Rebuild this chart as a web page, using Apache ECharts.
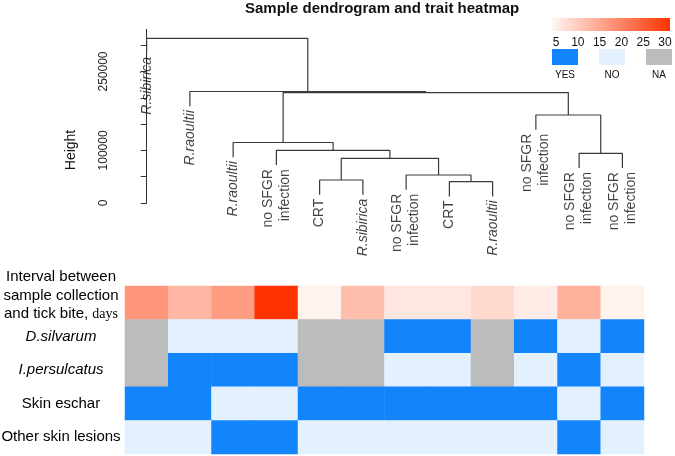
<!DOCTYPE html>
<html><head><meta charset="utf-8">
<script src="https://cdn.jsdelivr.net/npm/echarts@6/dist/echarts.min.js"></script>
<style>html,body{margin:0;padding:0;background:#fff}#c{width:675px;height:456px}</style>
</head><body><div id="c"></div>
<script>
// ---------- data ----------
const leafLabels = ['R.sibirica','R.raoultii','R.raoultii','no SFGR\ninfection','CRT','R.sibirica',
  'no SFGR\ninfection','CRT','R.raoultii','no SFGR\ninfection','no SFGR\ninfection','no SFGR\ninfection'];
const leafItalic = [true,true,true,false,false,true,false,false,true,false,false,false];
// hclust-style merges: negative = leaf (1-based), positive = earlier merge (1-based)
const mergeLeft  = [-8, -5, -7, 2, -11, -4, -3, -10, 7, -2, -1];
const mergeRight = [-9, -6,  1, 3, -12,  4,  6,   5, 8,  9, 10];
const mergeHeight = [40500, 43700, 53200, 85000, 94500, 100000, 115000, 167300, 210000, 212000, 313000];
const leafHang = 28000;
const heightTicks = [0, 50000, 100000, 150000, 200000, 250000, 300000];
const heightTickLabels = [0, 100000, 250000];

const traitRows = ['Interval between\nsample collection\nand tick bite, days','D.silvarum','I.persulcatus','Skin eschar','Other skin lesions'];
const intervalDays = [15, 10, 14, 30, 1, 9, 3, 3, 5, 2, 11, 1];
const dSilvarum    = ['NA','NO','NO','NO','NA','NA','YES','YES','NA','YES','NO','YES'];
const iPersulcatus = ['NA','YES','YES','YES','NA','NA','NO','NO','NA','NO','YES','NO'];
const skinEschar   = ['YES','YES','NO','NO','YES','YES','YES','YES','YES','YES','NO','YES'];
const otherLesions = ['NO','NO','YES','YES','NO','NO','NO','NO','NO','NO','YES','NO'];
const scaleTicks = [5, 10, 15, 20, 25, 30];
const statusNames = ['YES','NO','NA'];

// ---------- build ----------
const FONT = 'Liberation Sans, Arial, sans-serif';
const nLeaf = leafLabels.length;
const nodeX = [];
const leafEnd = new Array(nLeaf).fill(0);
const dendroSeries = [];
function childX(c){ return c < 0 ? (-c - 1) : nodeX[c - 1]; }
for (let i = 0; i < mergeHeight.length; i++) {
  const h = mergeHeight[i];
  const l = mergeLeft[i], r = mergeRight[i];
  const xl = childX(l), xr = childX(r);
  nodeX.push((xl + xr) / 2);
  const yl = l < 0 ? h - leafHang : mergeHeight[l - 1];
  const yr = r < 0 ? h - leafHang : mergeHeight[r - 1];
  if (l < 0) leafEnd[-l - 1] = h - leafHang;
  if (r < 0) leafEnd[-r - 1] = h - leafHang;
  dendroSeries.push({
    type: 'line', xAxisIndex: 0, yAxisIndex: 0, symbol: 'none', silent: true,
    lineStyle: { color: '#3a3a3a', width: 1.2 }, animation: false,
    data: [[xl, yl], [xl, h], [xr, h], [xr, yr]]
  });
}
const leafSeries = {
  type: 'scatter', xAxisIndex: 0, yAxisIndex: 0, symbolSize: 0, silent: true, animation: false,
  data: leafLabels.map((lab, i) => ({
    value: [i, leafEnd[i]], name: lab,
    label: { fontStyle: leafItalic[i] ? 'italic' : 'normal' }
  })),
  label: {
    show: true, position: 'inside', rotate: 90, align: 'right', verticalAlign: 'middle',
    offset: [-4, 0], formatter: p => p.name, fontSize: 14, lineHeight: 17,
    color: '#111', fontFamily: FONT
  }
};
const codeOf = { 'NO': 0, 'YES': 1, 'NA': 2 };
const catData = [];
[dSilvarum, iPersulcatus, skinEschar, otherLesions].forEach((row, r) => {
  row.forEach((v, c) => catData.push([c, r + 1, codeOf[v]]));
});
const heatSeries = [
  { type: 'heatmap', xAxisIndex: 1, yAxisIndex: 1, data: intervalDays.map((v, i) => [i, 0, v]),
    itemStyle: { borderWidth: 0 }, silent: true, animation: false },
  { type: 'heatmap', xAxisIndex: 1, yAxisIndex: 1, data: catData,
    itemStyle: { borderWidth: 0 }, silent: true, animation: false }
];
const series = dendroSeries.concat([leafSeries], heatSeries);
const heatIdx0 = series.length - 2, heatIdx1 = series.length - 1;

// legend graphics
const LX0 = 552, LX1 = 670;
const legendGraphics = [
  { type: 'rect', shape: { x: LX0, y: 18, width: LX1 - LX0, height: 13 },
    style: { fill: new echarts.graphic.LinearGradient(0, 0, 1, 0, [
      { offset: 0, color: '#fff6f2' }, { offset: 1, color: '#ff3300' }]) } }
];
scaleTicks.forEach(t => legendGraphics.push({
  type: 'text', x: 556 + (t - 5) * 4.36, y: 43,
  style: { text: String(t), fill: '#111', font: '12px ' + FONT, align: 'center', verticalAlign: 'middle' }
}));
const boxColors = { 'YES': '#1284fc', 'NO': '#e3f0fd', 'NA': '#bcbcbc' };
statusNames.forEach((s, i) => {
  const bx = LX0 + i * 47;
  legendGraphics.push({ type: 'rect', shape: { x: bx, y: 49, width: 26, height: 16 }, style: { fill: boxColors[s] } });
  legendGraphics.push({ type: 'text', x: bx + 13, y: 75,
    style: { text: s, fill: '#111', font: '10px ' + FONT, align: 'center', verticalAlign: 'middle' } });
});
legendGraphics.push({ type: 'text', x: 71, y: 150, rotation: Math.PI / 2,
  style: { text: 'Height', fill: '#111', font: '14px ' + FONT, align: 'center', verticalAlign: 'middle' } });

const option = {
  backgroundColor: '#fff',
  animation: false,
  textStyle: { fontFamily: FONT },
  title: { text: 'Sample dendrogram and trait heatmap', left: 245, top: 1, padding: 0,
    textStyle: { fontSize: 15, fontWeight: 'bold', color: '#111', fontFamily: FONT } },
  grid: [
    { left: 125, right: 31, top: 29.4, height: 173.6, outerBoundsMode: 'none', containLabel: false },
    { left: 125, right: 31, top: 286, height: 168, outerBoundsMode: 'none', containLabel: false }
  ],
  xAxis: [
    { type: 'value', gridIndex: 0, min: -0.5, max: nLeaf - 0.5, show: false },
    { type: 'category', gridIndex: 1, data: leafLabels.map((l, i) => String(i)), show: false }
  ],
  yAxis: [
    { type: 'value', gridIndex: 0, min: 0, max: 330000, offset: 2,
      axisLine: { show: true, lineStyle: { color: '#333', width: 1 } },
      axisTick: { show: true, length: 6, customValues: heightTicks, lineStyle: { color: '#333' } },
      axisLabel: { show: true, rotate: 90, customValues: heightTickLabels, fontSize: 12, color: '#222', margin: 13,
        fontFamily: FONT, formatter: v => String(v) },
      splitLine: { show: false } },
    { type: 'category', gridIndex: 1, inverse: true,
      data: traitRows.map((r, i) => i === 0 ? { value: r, textStyle: { padding: [0, 0, 14, 0], align: 'center' } } : r),
      axisLine: { show: false }, axisTick: { show: false },
      axisLabel: { interval: 0, fontSize: 15, color: '#000', align: 'center', margin: 64, lineHeight: 18.5,
        fontFamily: FONT,
        formatter: v => {
          if (v === 'D.silvarum' || v === 'I.persulcatus') return '{i|' + v + '}';
          return v.replace('days', '{d|days}');
        },
        rich: {
          d: { fontFamily: 'Liberation Serif, Times New Roman, serif', fontSize: 14, lineHeight: 18.5, color: '#000' },
          i: { fontStyle: 'italic', fontSize: 15, color: '#000', fontFamily: FONT }
        } } }
  ],
  visualMap: [
    { type: 'continuous', show: false, seriesIndex: heatIdx0, dimension: 2, min: 1, max: 30,
      inRange: { color: ['#fff3ee', '#ff3300'] } },
    { type: 'piecewise', show: false, seriesIndex: heatIdx1, dimension: 2,
      pieces: [{ value: 0, color: boxColors['NO'] }, { value: 1, color: boxColors['YES'] }, { value: 2, color: boxColors['NA'] }] }
  ],
  graphic: legendGraphics,
  series: series
};
const chart = echarts.init(document.getElementById('c'), null, { renderer: 'canvas' });
chart.setOption(option);
</script></body></html>
